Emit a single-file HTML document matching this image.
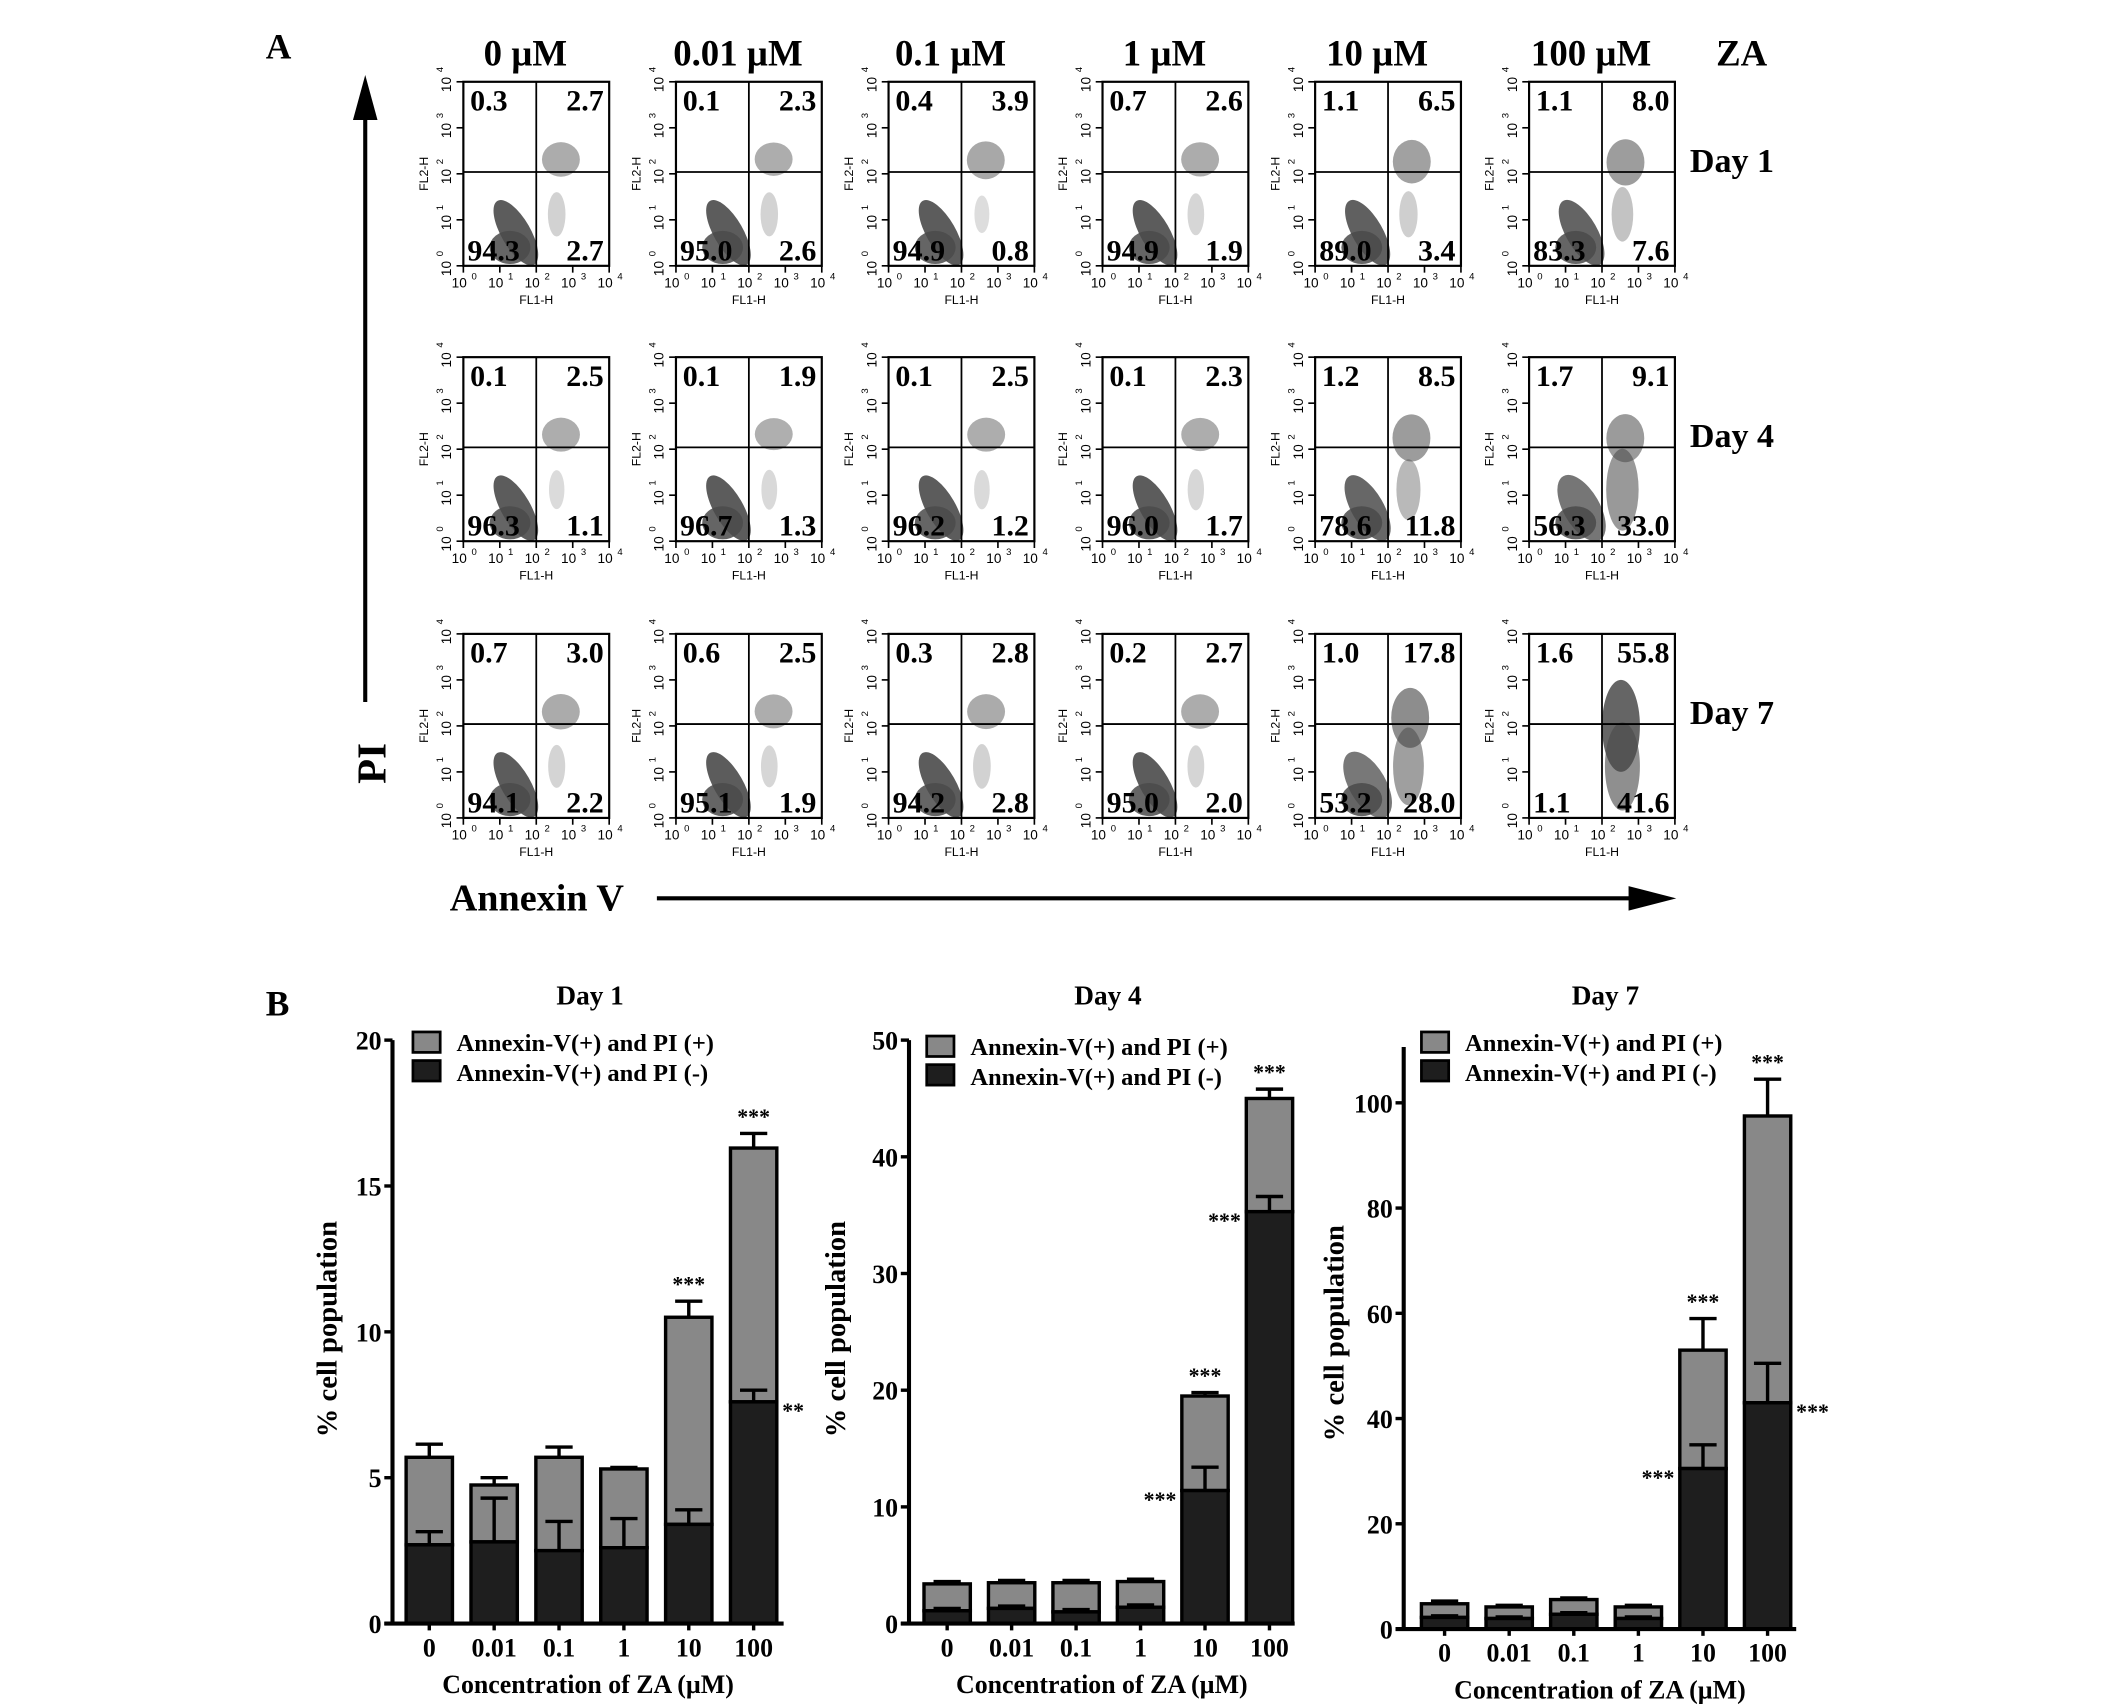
<!DOCTYPE html>
<html><head><meta charset="utf-8"><style>
html,body{margin:0;padding:0;background:#fff;}
svg{display:block;}
</style></head><body>
<svg id="fig" width="2126" height="1704" viewBox="0 0 1560 1250" preserveAspectRatio="none" xmlns="http://www.w3.org/2000/svg" font-family="'Liberation Serif', serif">
<rect x="0" y="0" width="1560" height="1250" fill="#fff"/>
<g id="panelA"></g>
<g id="panelB"></g>
</svg>
<script>
// ---------- Panel A data ----------
const concLabels = ["0 \u00b5M","0.01 \u00b5M","0.1 \u00b5M","1 \u00b5M","10 \u00b5M","100 \u00b5M"];
const dayLabels = ["Day 1","Day 4","Day 7"];
// quadrant percentages [row][col]
const qUL = [[0.3,0.1,0.4,0.7,1.1,1.1],[0.1,0.1,0.1,0.1,1.2,1.7],[0.7,0.6,0.3,0.2,1.0,1.6]];
const qUR = [[2.7,2.3,3.9,2.6,6.5,8.0],[2.5,1.9,2.5,2.3,8.5,9.1],[3.0,2.5,2.8,2.7,17.8,55.8]];
const qLL = [[94.3,95.0,94.9,94.9,89.0,83.3],[96.3,96.7,96.2,96.0,78.6,56.3],[94.1,95.1,94.2,95.0,53.2,1.1]];
const qLR = [[2.7,2.6,0.8,1.9,3.4,7.6],[1.1,1.3,1.2,1.7,11.8,33.0],[2.2,1.9,2.8,2.0,28.0,41.6]];

// ---------- Panel B data ----------
const barCats = ["0","0.01","0.1","1","10","100"];
const d1Total = [5.7,4.75,5.7,5.3,10.5,16.3];
const d1TotalErr = [0.45,0.25,0.35,0.05,0.55,0.5];
const d1Dark = [2.7,2.8,2.5,2.6,3.4,7.6];
const d1DarkErr = [0.45,1.5,1.0,1.0,0.5,0.4];
const d1Ticks = [0,5,10,15,20];
const d4Total = [3.4,3.5,3.5,3.6,19.5,45.0];
const d4TotalErr = [0.2,0.2,0.2,0.2,0.3,0.8];
const d4Dark = [1.1,1.3,1.0,1.4,11.4,35.3];
const d4DarkErr = [0.2,0.2,0.2,0.2,2.0,1.3];
const d4Ticks = [0,10,20,30,40,50];
const d7Total = [4.8,4.2,5.6,4.2,53.0,97.5];
const d7TotalErr = [0.5,0.3,0.3,0.3,6.0,7.0];
const d7Dark = [2.2,2.0,2.8,2.0,30.5,43.0];
const d7DarkErr = [0.3,0.3,0.3,0.3,4.5,7.5];
const d7Ticks = [0,20,40,60,80,100];

const NS="http://www.w3.org/2000/svg";
function mk(parent,tag,attrs,text){
  const e=document.createElementNS(NS,tag);
  for(const k in attrs) e.setAttribute(k,attrs[k]);
  if(text!==undefined) e.textContent=text;
  parent.appendChild(e); return e;
}
const A=document.getElementById('panelA');
const B=document.getElementById('panelB');

let t=mk(A,'text',{x:195,y:43,'font-size':26,'font-weight':'bold'},'A');



let g=mk(A,'g',{});


mk(g,'line',{x1:268,y1:515,x2:268,y2:80,stroke:'#000','stroke-width':3});
mk(g,'polygon',{points:'268,55 259,88 277,88',fill:'#000'});
t=mk(A,'text',{x:0,y:0,'font-size':30,'font-weight':'bold',transform:'translate(283,575) rotate(-90)'},'PI');


g=mk(A,'g',{});


mk(g,'line',{x1:482,y1:659,x2:1200,y2:659,stroke:'#000','stroke-width':3});
mk(g,'polygon',{points:'1230,659 1195,650 1195,668',fill:'#000'});
t=mk(A,'text',{x:330,y:668,'font-size':28,'font-weight':'bold'},'Annexin V');



const colX=[340,496,652,809,965,1122];
const rowY=[60,262,465];
const bw=107, bh=135;
concLabels.forEach((c,i)=>{
  const tt=mk(A,'text',{x:colX[i]+bw/2-8,y:48,'font-size':27,'font-weight':'bold','text-anchor':'middle'},c);
  
  
});
t=mk(A,'text',{x:1278,y:48,'font-size':27,'font-weight':'bold','text-anchor':'middle'},'ZA');


dayLabels.forEach((d,r)=>{
  const tt=mk(A,'text',{x:1240,y:rowY[r]+66,'font-size':25,'font-weight':'bold'},d);
  
  
});

for(let r=0;r<3;r++){
  for(let c=0;c<6;c++){
    const x0=colX[c], y0=rowY[r];
    const p=mk(A,'g',{});
    
    
    const ll=qLL[r][c], ur=qUR[r][c], lr=qLR[r][c];
    if(ll>5){
      const s=Math.min(1,ll/95);
      mk(p,'ellipse',{cx:x0+bw*0.36,cy:y0+bh*0.82,rx:bw*(0.10+0.06*(1-s)),ry:bh*0.2,fill:'#4a4a4a','fill-opacity':0.55+0.35*s,transform:`rotate(-30 ${x0+bw*0.36} ${y0+bh*0.82})`});
      mk(p,'ellipse',{cx:x0+bw*0.32,cy:y0+bh*0.9,rx:bw*0.14,ry:bh*0.09,fill:'#4a4a4a','fill-opacity':0.85});
    }
    const su=Math.sqrt(ur/55.8);
    mk(p,'ellipse',{cx:x0+bw*(0.68-0.05*su),cy:y0+bh*(0.4+0.1*su),rx:bw*(0.13),ry:bh*(0.05+0.2*su),fill:'#4a4a4a','fill-opacity':0.35+0.5*su});
    const sl=Math.sqrt(lr/41.6);
    mk(p,'ellipse',{cx:x0+bw*0.64,cy:y0+bh*0.72,rx:bw*(0.04+0.08*sl),ry:bh*(0.08+0.16*sl),fill:'#4a4a4a','fill-opacity':0.12+0.5*sl});
    mk(p,'rect',{x:x0,y:y0,width:bw,height:bh,fill:'none',stroke:'#000','stroke-width':1.6});
    mk(p,'line',{x1:x0+bw*0.5,y1:y0,x2:x0+bw*0.5,y2:y0+bh,stroke:'#000','stroke-width':1.3});
    mk(p,'line',{x1:x0,y1:y0+bh*0.49,x2:x0+bw,y2:y0+bh*0.49,stroke:'#000','stroke-width':1.3});
    for(let k=0;k<=4;k++){
      const tx=x0+bw*k/4, ty=y0+bh-bh*k/4;
      mk(p,'line',{x1:tx,y1:y0+bh,x2:tx,y2:y0+bh+5,stroke:'#000','stroke-width':1.2});
      mk(p,'line',{x1:x0,y1:ty,x2:x0-5,y2:ty,stroke:'#000','stroke-width':1.2});
      mk(p,'text',{x:tx-3,y:y0+bh+16,'font-size':10,'font-family':"'Liberation Sans', sans-serif",'text-anchor':'middle'},'10');
      mk(p,'text',{x:tx+6,y:y0+bh+10,'font-size':7,'font-family':"'Liberation Sans', sans-serif"},String(k));
      mk(p,'text',{x:0,y:0,'font-size':10,'font-family':"'Liberation Sans', sans-serif",'text-anchor':'middle',transform:`translate(${x0-9},${ty+2}) rotate(-90)`},'10');
      mk(p,'text',{x:0,y:0,'font-size':7,'font-family':"'Liberation Sans', sans-serif",transform:`translate(${x0-15},${ty-7}) rotate(-90)`},String(k));
    }
    mk(p,'text',{x:x0+bw/2,y:y0+bh+28,'font-size':9,'font-family':"'Liberation Sans', sans-serif",'text-anchor':'middle'},'FL1-H');
    mk(p,'text',{x:0,y:0,'font-size':9,'font-family':"'Liberation Sans', sans-serif",'text-anchor':'middle',transform:`translate(${x0-26},${y0+bh/2}) rotate(-90)`},'FL2-H');
    const fs=22;
    mk(p,'text',{x:x0+5,y:y0+21,'font-size':fs,'font-weight':'bold'},qUL[r][c].toFixed(1));
    mk(p,'text',{x:x0+bw-4,y:y0+21,'font-size':fs,'font-weight':'bold','text-anchor':'end'},qUR[r][c].toFixed(1));
    mk(p,'text',{x:x0+3,y:y0+bh-4,'font-size':fs,'font-weight':'bold'},qLL[r][c].toFixed(1));
    mk(p,'text',{x:x0+bw-4,y:y0+bh-4,'font-size':fs,'font-weight':'bold','text-anchor':'end'},qLR[r][c].toFixed(1));
  }
}

// ---------- Panel B ----------
t=mk(B,'text',{x:195,y:745,'font-size':26,'font-weight':'bold'},'B');



function barChart(cfg){
  const G=mk(B,'g',{});
  
  
  const yS=v=>cfg.y0-(v/cfg.max)*(cfg.y0-cfg.yMax);
  const xS=i=>cfg.x0+cfg.first+i*cfg.pitch;
  const bwid=34;
  let tt=mk(G,'text',{x:cfg.titleX,y:737,'font-size':20,'font-weight':'bold','text-anchor':'middle'},cfg.title);
  
  
  barCats.forEach((c,i)=>{
    const cx=xS(i);
    const tot=cfg.total[i], dk=cfg.dark[i];
    const bg=mk(G,'g',{});
    
    
    mk(bg,'line',{x1:cx,y1:yS(tot),x2:cx,y2:yS(tot+cfg.totalErr[i]),stroke:'#000','stroke-width':2.5});
    mk(bg,'line',{x1:cx-10,y1:yS(tot+cfg.totalErr[i]),x2:cx+10,y2:yS(tot+cfg.totalErr[i]),stroke:'#000','stroke-width':2.5});
    mk(bg,'rect',{x:cx-bwid/2,y:yS(tot),width:bwid,height:yS(dk)-yS(tot),fill:'#888',stroke:'#000','stroke-width':2.5});
    mk(bg,'rect',{x:cx-bwid/2,y:yS(dk),width:bwid,height:yS(0)-yS(dk),fill:'#1e1e1e',stroke:'#000','stroke-width':2.5});
    mk(bg,'line',{x1:cx,y1:yS(dk),x2:cx,y2:yS(dk+cfg.darkErr[i]),stroke:'#000','stroke-width':2.5});
    mk(bg,'line',{x1:cx-10,y1:yS(dk+cfg.darkErr[i]),x2:cx+10,y2:yS(dk+cfg.darkErr[i]),stroke:'#000','stroke-width':2.5});
    mk(G,'line',{x1:cx,y1:cfg.y0,x2:cx,y2:cfg.y0+5,stroke:'#000','stroke-width':2.5});
    const lb=mk(G,'text',{x:cx,y:cfg.y0+24,'font-size':19,'font-weight':'bold','text-anchor':'middle'},c);
    
    
  });
  cfg.stars.forEach(s=>{
    const i=s[0];
    const v = s[1]==='t' ? cfg.total[i]+cfg.totalErr[i] : cfg.dark[i];
    let x=xS(i), y;
    let anchor='middle';
    if(s[1]==='t'){ y=yS(v)-7; }
    else { y=yS(v)+12; if(s[3]==='r'){x+=21;anchor='start';} else {x-=21;anchor='end';} }
    const st=mk(G,'text',{x:x,y:y,'font-size':16,'font-weight':'bold','text-anchor':anchor},s[2]);
    
    
  });
  mk(G,'line',{x1:cfg.x0,y1:cfg.axisTop,x2:cfg.x0,y2:cfg.y0,stroke:'#000','stroke-width':3});
  mk(G,'line',{x1:cfg.x0-6,y1:cfg.y0,x2:cfg.xEnd,y2:cfg.y0,stroke:'#000','stroke-width':3});
  cfg.ticks.forEach(v=>{
    mk(G,'line',{x1:cfg.x0-6,y1:yS(v),x2:cfg.x0,y2:yS(v),stroke:'#000','stroke-width':2.5});
    const yl=mk(G,'text',{x:cfg.x0-8,y:yS(v)+7,'font-size':19,'font-weight':'bold','text-anchor':'end'},String(v));
    
    
  });
  tt=mk(G,'text',{x:0,y:0,'font-size':21,'font-weight':'bold','text-anchor':'middle',transform:`translate(${cfg.ylabX},${cfg.ylabY}) rotate(-90)`},'% cell population');
  
  
  tt=mk(G,'text',{x:(cfg.x0+cfg.xEnd)/2,y:cfg.y0+51,'font-size':19,'font-weight':'bold','text-anchor':'middle'},'Concentration of ZA (\u00b5M)');
  
  
  const L=mk(G,'g',{});
  
  
  mk(L,'rect',{x:cfg.legX,y:cfg.legY,width:20,height:15,fill:'#888',stroke:'#000','stroke-width':2});
  mk(L,'rect',{x:cfg.legX,y:cfg.legY+21,width:20,height:15,fill:'#1e1e1e',stroke:'#000','stroke-width':2});
  mk(L,'text',{x:cfg.legX+32,y:cfg.legY+14,'font-size':18,'font-weight':'bold'},'Annexin-V(+) and PI (+)');
  mk(L,'text',{x:cfg.legX+32,y:cfg.legY+36,'font-size':18,'font-weight':'bold'},'Annexin-V(+) and PI (-)');
}

barChart({name:'day1-chart',title:'Day 1',titleX:433,x0:288,xEnd:575,y0:1191,yMax:763,axisTop:763,max:20,
  first:27,pitch:47.6,total:d1Total,totalErr:d1TotalErr,dark:d1Dark,darkErr:d1DarkErr,ticks:d1Ticks,
  ylabX:247,ylabY:975,legX:303,legY:757,
  stars:[[4,'t','***'],[5,'t','***'],[5,'d','**','r']]});
barChart({name:'day4-chart',title:'Day 4',titleX:813,x0:667,xEnd:950,y0:1191,yMax:763,axisTop:763,max:50,
  first:28,pitch:47.3,total:d4Total,totalErr:d4TotalErr,dark:d4Dark,darkErr:d4DarkErr,ticks:d4Ticks,
  ylabX:620,ylabY:975,legX:680,legY:760,
  stars:[[4,'t','***'],[5,'t','***'],[4,'d','***','l'],[5,'d','***','l']]});
barChart({name:'day7-chart',title:'Day 7',titleX:1178,x0:1030,xEnd:1318,y0:1195,yMax:809,axisTop:768,max:100,
  first:30,pitch:47.4,total:d7Total,totalErr:d7TotalErr,dark:d7Dark,darkErr:d7DarkErr,ticks:d7Ticks,
  ylabX:986,ylabY:978,legX:1043,legY:757,
  stars:[[4,'t','***'],[5,'t','***'],[4,'d','***','l'],[5,'d','***','r']]});
</script>
</body></html>
